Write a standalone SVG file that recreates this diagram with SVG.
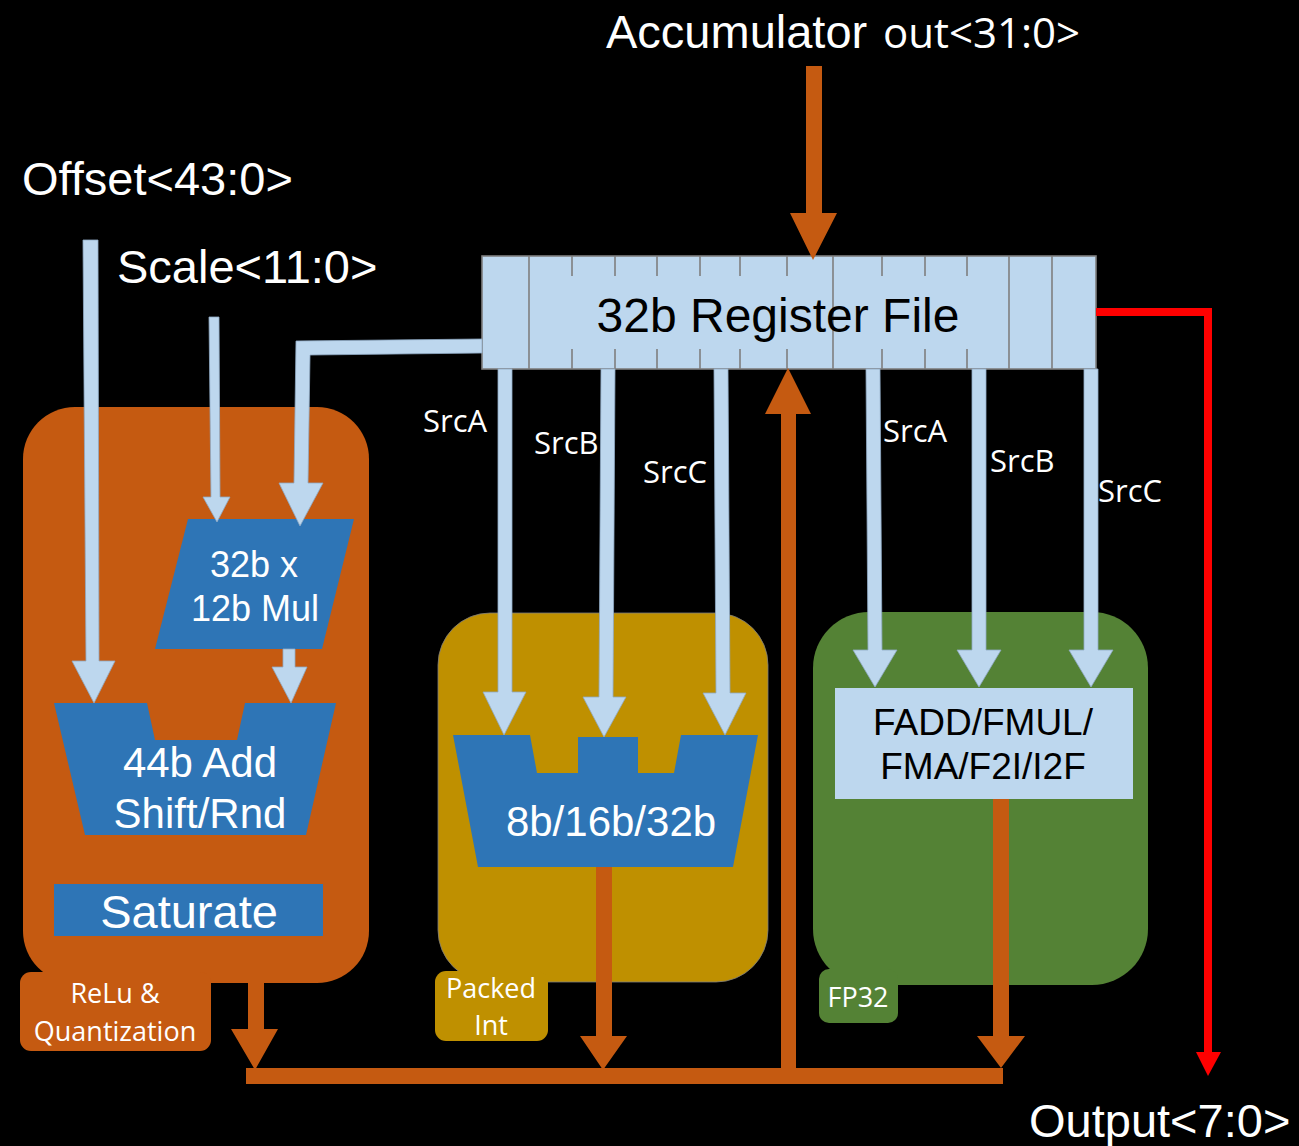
<svg xmlns="http://www.w3.org/2000/svg" width="1299" height="1146" viewBox="0 0 1299 1146">
  <defs>
    <style>
      .sans { font-family: "Liberation Sans", Arial, sans-serif; }
      .cal { font-family: "Open Sans", "Noto Sans", sans-serif; }
      .wt { fill: #FFFFFF; }
      .bk { fill: #000000; }
      .wire { fill: #BDD7EE; stroke: #8FA9C4; stroke-width: 0.8; }
      .bus { fill: #C55A11; }
      .unit { fill: #2E75B6; }
      .tick { stroke: #7F7F7F; stroke-width: 1.6; }
    </style>
  </defs>

  <rect x="0" y="0" width="1299" height="1146" fill="#000000"/>

  <!-- Port labels -->
  <g id="labels">
    <text class="sans wt" x="606" y="48" font-size="47">Accumulator</text>
    <text class="cal wt" x="883" y="48" font-size="42">out&lt;31:0&gt;</text>
    <text class="sans wt" x="22" y="195" font-size="47">Offset&lt;43:0&gt;</text>
    <text class="sans wt" x="117" y="283" font-size="47">Scale&lt;11:0&gt;</text>
    <text class="sans wt" x="1029" y="1137" font-size="47">Output&lt;7:0&gt;</text>
  </g>

  <!-- ReLu & Quantization unit -->
  <g id="relu-quant">
    <rect x="23" y="407" width="346" height="576" rx="52" fill="#C55A11"/>
    <rect x="20" y="972" width="191" height="79" rx="11" fill="#C55A11"/>
    <text class="cal wt" x="115" y="1003" font-size="27" text-anchor="middle">ReLu &amp;</text>
    <text class="cal wt" x="115" y="1041" font-size="27" text-anchor="middle">Quantization</text>
  </g>

  <g id="mul">
    <polygon class="unit" points="188,519 354,519 322,649 155,649"/>
    <text class="sans wt" x="254" y="577" font-size="36" text-anchor="middle">32b x</text>
    <text class="sans wt" x="255" y="621" font-size="36" text-anchor="middle">12b Mul</text>
  </g>

  <g id="adder">
    <polygon class="unit" points="54,703 147,703 155,740 237,740 245,703 336,703 306,835 85,835"/>
    <text class="sans wt" x="200" y="777" font-size="42" text-anchor="middle">44b Add</text>
    <text class="sans wt" x="200" y="828" font-size="42" text-anchor="middle">Shift/Rnd</text>
  </g>

  <g id="saturate">
    <rect class="unit" x="54" y="884" width="269" height="52"/>
    <text class="sans wt" x="189" y="928" font-size="47" text-anchor="middle">Saturate</text>
  </g>

  <!-- Packed integer unit -->
  <g id="packed-int">
    <rect x="438" y="613" width="330" height="369" rx="52" fill="#BF9000" stroke="#7F7F7F" stroke-width="0.8"/>
    <rect x="435" y="971" width="113" height="70" rx="11" fill="#BF9000"/>
    <text class="cal wt" x="491" y="998" font-size="27" text-anchor="middle">Packed</text>
    <text class="cal wt" x="491" y="1035" font-size="27" text-anchor="middle">Int</text>
  </g>

  <g id="int-alu">
    <polygon class="unit" points="453,735 530,735 537,773 578,773 578,737 638,737 638,773 674,773 681,735 758,735 733,867 478,867"/>
    <text class="sans wt" x="611" y="836" font-size="42" text-anchor="middle">8b/16b/32b</text>
  </g>

  <!-- FP32 unit -->
  <g id="fp32">
    <rect x="813" y="612" width="335" height="373" rx="56" fill="#548235"/>
    <rect x="819" y="969" width="79" height="54" rx="10" fill="#548235"/>
    <text class="cal wt" x="858" y="1007" font-size="27" text-anchor="middle">FP32</text>
  </g>

  <g id="fpu">
    <rect x="835" y="688" width="298" height="111" fill="#BDD7EE"/>
    <text class="sans bk" x="983" y="735" font-size="37" text-anchor="middle">FADD/FMUL/</text>
    <text class="sans bk" x="983" y="779" font-size="37" text-anchor="middle">FMA/F2I/I2F</text>
  </g>

  <!-- Register file -->
  <g id="register-file">
    <rect x="482" y="256" width="614" height="113" fill="#BDD7EE" stroke="#7F7F7F" stroke-width="1.6"/>
    <g class="tick">
      <line x1="529" y1="256" x2="529" y2="369"/>
      <line x1="833" y1="256" x2="833" y2="369"/>
      <line x1="1009" y1="256" x2="1009" y2="369"/>
      <line x1="1052" y1="256" x2="1052" y2="369"/>
    </g>
    <path class="tick" fill="none" d="M572,256v20M615,256v20M657,256v20M700,256v20M740,256v20M787,256v20M882,256v20M925,256v20M967,256v20
             M572,349v20M615,349v20M657,349v20M700,349v20M740,349v20M787,349v20M882,349v20M925,349v20M967,349v20"/>
    <text class="sans bk" x="778" y="332" font-size="48" text-anchor="middle">32b Register File</text>
  </g>

  <!-- Operand labels -->
  <g id="operand-labels" class="cal wt" font-size="31">
    <text x="423" y="432">SrcA</text>
    <text x="534" y="454">SrcB</text>
    <text x="643" y="483">SrcC</text>
    <text x="883" y="442">SrcA</text>
    <text x="990" y="472">SrcB</text>
    <text x="1098" y="502">SrcC</text>
  </g>

  <!-- Connectors -->
  <g id="connectors">
    <!-- light-blue operand / parameter wires -->
    <path class="wire" d="M83,240 L98,240 L99,661 L115,661 L94,703 L72,661 L86,661 Z"/>
    <path class="wire" d="M209,317 L219,317 L220,497 L230,497 L217,522 L203,497 L211,497 Z"/>
    <path class="wire" d="M482,339 L296,341 L294,483 L279,483 L300,526 L323,483 L308,483 L310,355 L482,353 Z"/>
    <path class="wire" d="M283,649 L295,649 L295,667 L307,667 L291,703 L272,667 L283,667 Z"/>

    <path class="wire" d="M498,369 L512,369 L512,692 L526,692 L504,735 L483,692 L498,692 Z"/>
    <path class="wire" d="M601,369 L615,369 L613,697 L626,697 L604,737 L583,697 L599,697 Z"/>
    <path class="wire" d="M714,369 L728,369 L730,693 L746,693 L725,735 L703,693 L716,693 Z"/>

    <path class="wire" d="M866,369 L880,369 L882,650 L897,650 L875,687 L853,650 L868,650 Z"/>
    <path class="wire" d="M972,369 L986,369 L986,650 L1001,650 L979,687 L957,650 L972,650 Z"/>
    <path class="wire" d="M1084,369 L1098,369 L1098,650 L1113,650 L1091,687 L1069,650 L1084,650 Z"/>

    <!-- accumulator input -->
    <path class="bus" d="M806,66 L822,66 L822,213 L837,213 L813,260 L790,213 L806,213 Z"/>

    <!-- result outputs and result bus -->
    <path class="bus" d="M248,983 L264,983 L264,1029 L278,1029 L255,1070 L231,1029 L248,1029 Z"/>
    <path class="bus" d="M596,867 L612,867 L612,1036 L627,1036 L603,1070 L580,1036 L596,1036 Z"/>
    <path class="bus" d="M993,799 L1009,799 L1009,1036 L1025,1036 L1001,1068 L977,1036 L993,1036 Z"/>
    <rect class="bus" x="246" y="1068" width="757" height="16"/>
    <path class="bus" d="M781,1084 L781,414 L765,414 L788,368 L811,414 L796,414 L796,1084 Z"/>

    <!-- final output -->
    <polyline points="1096,312 1208,312 1208,1053" fill="none" stroke="#FF0000" stroke-width="8"/>
    <polygon points="1196,1052 1221,1052 1208,1076" fill="#FF0000"/>
  </g>
</svg>
